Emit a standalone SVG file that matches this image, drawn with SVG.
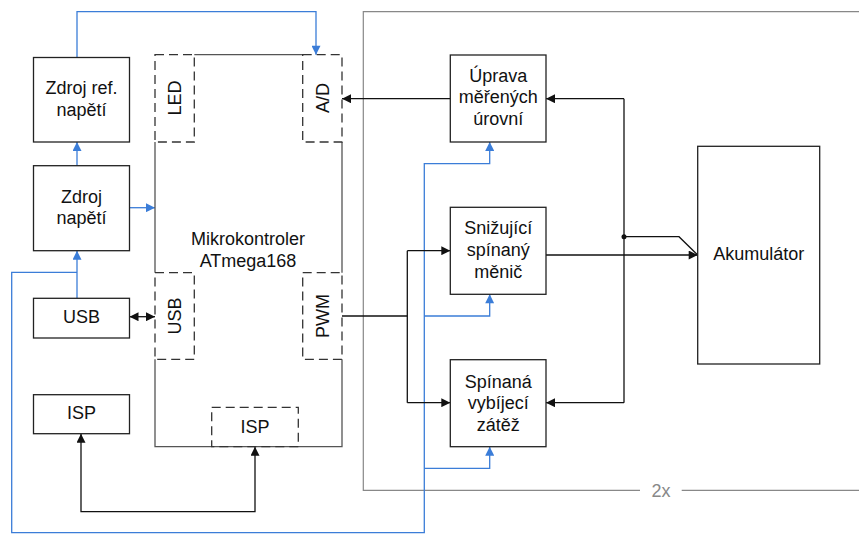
<svg xmlns="http://www.w3.org/2000/svg" width="859" height="534" viewBox="0 0 859 534">
<style>
.box{fill:#fff;stroke:#222;stroke-width:1.3}
.dash{fill:none;stroke:#333;stroke-width:1.3;stroke-dasharray:9 5}
.solid{fill:none;stroke:#555;stroke-width:1.3}
.ln{fill:none;stroke:#111;stroke-width:1.3}
.bl{fill:none;stroke:#3b7dd8;stroke-width:1.3}
.fr{fill:none;stroke:#888;stroke-width:1.2}
text{font-family:"Liberation Sans",Arial,sans-serif;font-size:18px;fill:#111;text-anchor:middle}
.gray{fill:#888}
</style>
<defs>
<marker id="ab" viewBox="0 0 10 10" refX="10" refY="5" markerWidth="10" markerHeight="9" markerUnits="userSpaceOnUse" orient="auto-start-reverse"><path d="M0,0 L10,5 L0,10 z" fill="#111"/></marker>
<marker id="au" viewBox="0 0 10 10" refX="10" refY="5" markerWidth="11" markerHeight="9" markerUnits="userSpaceOnUse" orient="auto-start-reverse"><path d="M0,0 L10,5 L0,10 z" fill="#3b7dd8"/></marker>
</defs>

<g id="frame">
<path class="fr" d="M859,11.7 L363.3,11.7 L363.3,490.3 L640,490.3 M681.7,490.3 L859,490.3"/>
<text class="gray" x="661" y="496.5">2x</text>
</g>

<g id="connectors">
<path class="bl" d="M77,57.5 L77,11.7 L316,11.7 L316,54.7" marker-end="url(#au)"/>
<path class="bl" d="M77,165.7 L77,142" marker-end="url(#au)"/>
<path class="bl" d="M129.5,207.7 L155,207.7" marker-end="url(#au)"/>
<path class="bl" d="M77,298.3 L77,250.7" marker-end="url(#au)"/>
<path class="bl" d="M77,272.3 L11.7,272.3 L11.7,532.7 L424.3,532.7 L424.3,163.7 L489.7,163.7 L489.7,142" marker-end="url(#au)"/>
<path class="bl" d="M424.3,316 L489.7,316 L489.7,294.3" marker-end="url(#au)"/>
<path class="bl" d="M424.3,468.3 L489.7,468.3 L489.7,446.7" marker-end="url(#au)"/>
<path class="ln" d="M129.5,316.7 L155,316.7" marker-start="url(#ab)" marker-end="url(#ab)"/>
<path class="ln" d="M81,433.7 L81,511.7 L255,511.7 L255,446.7" marker-start="url(#ab)" marker-end="url(#ab)"/>
<path class="ln" d="M450.3,98.7 L342,98.7" marker-end="url(#ab)"/>
<path class="ln" d="M624,98.7 L546,98.7" marker-end="url(#ab)"/>
<path class="ln" d="M624,402.7 L546,402.7" marker-end="url(#ab)"/>
<path class="ln" d="M624,98.7 L624,402.7"/>
<circle cx="624" cy="236.7" r="2.5" fill="#111"/>
<path class="ln" d="M624,236.7 L679,236.7 L697.7,255"/>
<path class="ln" d="M546,255 L697.7,255" marker-end="url(#ab)"/>
<path class="ln" d="M342,316 L407.3,316"/>
<path class="ln" d="M407.3,250.7 L407.3,402.7"/>
<path class="ln" d="M407.3,250.7 L450.3,250.7" marker-end="url(#ab)"/>
<path class="ln" d="M407.3,402.7 L450.3,402.7" marker-end="url(#ab)"/>
</g>

<g id="zdroj-ref">
<rect class="box" x="33.5" y="57.5" width="96" height="84.5"/>
<text x="81.5" y="94">Zdroj ref.</text>
<text x="81.5" y="115.7">napětí</text>
</g>
<g id="zdroj">
<rect class="box" x="33.5" y="165.7" width="96" height="85"/>
<text x="81.5" y="203">Zdroj</text>
<text x="81.5" y="224">napětí</text>
</g>
<g id="usb">
<rect class="box" x="33.5" y="298.3" width="96" height="39.7"/>
<text x="81.5" y="323.3">USB</text>
</g>
<g id="isp">
<rect class="box" x="33.5" y="394.7" width="96" height="39"/>
<text x="81.5" y="419.3">ISP</text>
</g>

<g id="mcu">
<path class="solid" d="M194.3,54.7 L302.7,54.7 M342,142 L342,272.7 M342,359.3 L342,446.7 L155,446.7 L155,359.3 M155,272.7 L155,142"/>
<text x="248" y="245">Mikrokontroler</text>
<text x="248" y="266.5">ATmega168</text>
</g>
<g id="mcu-led">
<rect class="dash" x="155" y="54.7" width="39.3" height="87.3"/>
<text transform="translate(181,98) rotate(-90)">LED</text>
</g>
<g id="mcu-ad">
<rect class="dash" x="302.7" y="54.7" width="39.3" height="87.3"/>
<text transform="translate(328.5,98) rotate(-90)">A/D</text>
</g>
<g id="mcu-usb">
<rect class="dash" x="155" y="272.7" width="39.3" height="86.6"/>
<text transform="translate(181,316) rotate(-90)">USB</text>
</g>
<g id="mcu-pwm">
<rect class="dash" x="302.7" y="272.7" width="39.3" height="86.6"/>
<text transform="translate(328.5,316) rotate(-90)">PWM</text>
</g>
<g id="mcu-isp">
<rect class="dash" x="211.7" y="407.3" width="86.6" height="39.4"/>
<text x="255" y="432.7">ISP</text>
</g>

<g id="uprava">
<rect class="box" x="450.3" y="55" width="95.7" height="87"/>
<text x="498.2" y="81.7">Úprava</text>
<text x="498.2" y="103.3">měřených</text>
<text x="498.2" y="125">úrovní</text>
</g>
<g id="snizujici">
<rect class="box" x="450.3" y="207.3" width="95.7" height="87"/>
<text x="498.2" y="234">Snižující</text>
<text x="498.2" y="256">spínaný</text>
<text x="498.2" y="278.3">měnič</text>
</g>
<g id="spinana">
<rect class="box" x="450.3" y="359.7" width="95.7" height="87"/>
<text x="498.2" y="387.7">Spínaná</text>
<text x="498.2" y="409">vybíjecí</text>
<text x="498.2" y="430.7">zátěž</text>
</g>
<g id="akumulator">
<rect class="box" x="697.7" y="146.3" width="122" height="217.7"/>
<text x="758.7" y="260">Akumulátor</text>
</g>
</svg>
